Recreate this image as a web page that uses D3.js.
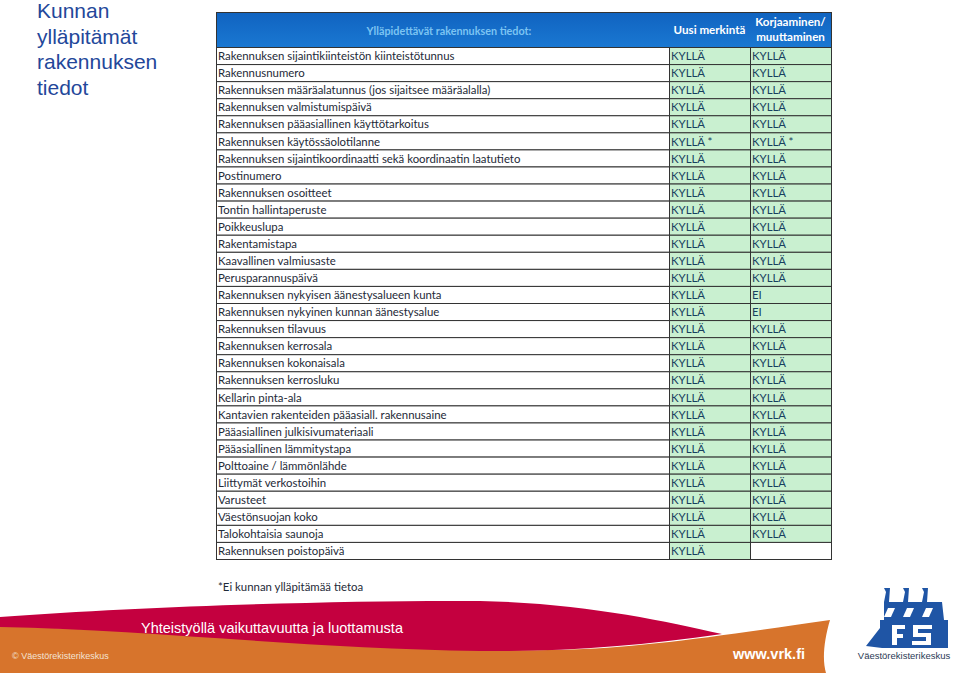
<!DOCTYPE html>
<html lang="fi">
<head>
<meta charset="UTF-8">
<title>Kunnan ylläpitämät rakennuksen tiedot</title>
<script src="https://d3js.org/d3.v7.min.js"></script>
<style>
  body { margin: 0; background: #fff; }
  svg { display: block; }
</style>
</head>
<body>
<script>
// Table rows
const labels = [
  "Rakennuksen sijaintikiinteistön kiinteistötunnus",
  "Rakennusnumero",
  "Rakennuksen määräalatunnus (jos sijaitsee määräalalla)",
  "Rakennuksen valmistumispäivä",
  "Rakennuksen pääasiallinen käyttötarkoitus",
  "Rakennuksen käytössäolotilanne",
  "Rakennuksen sijaintikoordinaatti sekä koordinaatin laatutieto",
  "Postinumero",
  "Rakennuksen osoitteet",
  "Tontin hallintaperuste",
  "Poikkeuslupa",
  "Rakentamistapa",
  "Kaavallinen valmiusaste",
  "Perusparannuspäivä",
  "Rakennuksen nykyisen äänestysalueen kunta",
  "Rakennuksen nykyinen kunnan äänestysalue",
  "Rakennuksen tilavuus",
  "Rakennuksen kerrosala",
  "Rakennuksen kokonaisala",
  "Rakennuksen kerrosluku",
  "Kellarin pinta-ala",
  "Kantavien rakenteiden pääasiall. rakennusaine",
  "Pääasiallinen julkisivumateriaali",
  "Pääasiallinen lämmitystapa",
  "Polttoaine / lämmönlähde",
  "Liittymät verkostoihin",
  "Varusteet",
  "Väestönsuojan koko",
  "Talokohtaisia saunoja",
  "Rakennuksen poistopäivä"
];
const newMark = labels.map((d, i) => i === 5 ? "KYLLÄ *" : "KYLLÄ");
const modify = [
  "KYLLÄ", "KYLLÄ", "KYLLÄ", "KYLLÄ", "KYLLÄ", "KYLLÄ *", "KYLLÄ", "KYLLÄ",
  "KYLLÄ", "KYLLÄ", "KYLLÄ", "KYLLÄ", "KYLLÄ", "KYLLÄ", "EI", "EI",
  "KYLLÄ", "KYLLÄ", "KYLLÄ", "KYLLÄ", "KYLLÄ", "KYLLÄ", "KYLLÄ", "KYLLÄ",
  "KYLLÄ", "KYLLÄ", "KYLLÄ", "KYLLÄ", "KYLLÄ", ""
];
const headers = ["Ylläpidettävät rakennuksen tiedot:", "Uusi merkintä", "Korjaaminen/\nmuuttaminen"];
const titleLines = ["Kunnan", "ylläpitämät", "rakennuksen", "tiedot"];

const w = 960, h = 673;
const green = "#c9f0d0";
const line = "#333";
const tableFont = "Lato, 'Liberation Sans', sans-serif";

const svg = d3.select("body").append("svg")
  .attr("width", w).attr("height", h)
  .attr("viewBox", [0, 0, w, h]);

// Slide title
svg.append("g").selectAll("text")
  .data(titleLines)
  .join("text")
  .attr("x", 37)
  .attr("y", (d, i) => 18 + i * 25.7)
  .attr("fill", "#23479a")
  .style("font", "21px 'Liberation Sans', Arial, sans-serif")
  .text(d => d);

// Scales
const colEdges = [216, 669, 750, 831];
const y = d3.scaleBand()
  .domain(d3.range(labels.length))
  .range([47.5, 559.5]);
const hdrTop = 12.5, hdrBottom = 47.5;

// Header
const defs = svg.append("defs");
const grad = defs.append("linearGradient").attr("id", "hdr").attr("x1", 0).attr("x2", 0).attr("y1", 0).attr("y2", 1);
grad.append("stop").attr("offset", 0).attr("stop-color", "#1063c0");
grad.append("stop").attr("offset", 1).attr("stop-color", "#1a78d2");

svg.append("rect")
  .attr("x", colEdges[0] + 0.5).attr("y", hdrTop)
  .attr("width", colEdges[3] - colEdges[0]).attr("height", hdrBottom - hdrTop)
  .attr("fill", "url(#hdr)").attr("stroke", line);

svg.append("text")
  .attr("x", 449).attr("y", 35)
  .attr("text-anchor", "middle")
  .attr("fill", "#7cc4f2")
  .style("font", `bold 10.8px ${tableFont}`)
  .text(headers[0]);

svg.append("text")
  .attr("x", (colEdges[1] + colEdges[2]) / 2).attr("y", 34)
  .attr("text-anchor", "middle")
  .attr("fill", "#fff")
  .style("font", `bold 11.6px ${tableFont}`)
  .text(headers[1]);

svg.append("text")
  .attr("x", (colEdges[2] + colEdges[3]) / 2).attr("y", 26)
  .attr("text-anchor", "middle")
  .attr("fill", "#fff")
  .style("font", `bold 11.6px ${tableFont}`)
  .selectAll("tspan")
  .data(headers[2].split("\n"))
  .join("tspan")
  .attr("x", (colEdges[2] + colEdges[3]) / 2)
  .attr("dy", (d, i) => i ? 15 : 0)
  .text(d => d);

// Body rows
const rows = svg.append("g").selectAll("g")
  .data(labels.map((d, i) => ({ label: d, a: newMark[i], b: modify[i] })))
  .join("g")
  .attr("transform", (d, i) => `translate(0,${y(i)})`);

rows.append("rect")
  .attr("x", colEdges[0] + 0.5).attr("width", colEdges[1] - colEdges[0])
  .attr("height", y.bandwidth()).attr("fill", "#fff").attr("stroke", line);
rows.append("rect")
  .attr("x", colEdges[1] + 0.5).attr("width", colEdges[2] - colEdges[1])
  .attr("height", y.bandwidth()).attr("fill", d => d.a ? green : "#fff").attr("stroke", line);
rows.append("rect")
  .attr("x", colEdges[2] + 0.5).attr("width", colEdges[3] - colEdges[2])
  .attr("height", y.bandwidth()).attr("fill", d => d.b ? green : "#fff").attr("stroke", line);

rows.append("text")
  .attr("x", colEdges[0] + 2).attr("y", y.bandwidth() / 2 + 4.2)
  .attr("fill", "#1e2a38")
  .style("font", `11.4px ${tableFont}`)
  .text(d => d.label);
rows.append("text")
  .attr("x", colEdges[1] + 2).attr("y", y.bandwidth() / 2 + 4.2)
  .attr("fill", "#17405f")
  .style("font", `11.4px ${tableFont}`)
  .text(d => d.a);
rows.append("text")
  .attr("x", colEdges[2] + 2).attr("y", y.bandwidth() / 2 + 4.2)
  .attr("fill", "#17405f")
  .style("font", `11.4px ${tableFont}`)
  .text(d => d.b);

// Footnote
svg.append("text")
  .attr("x", 218).attr("y", 591)
  .attr("fill", "#1e2a38")
  .style("font", `11.4px ${tableFont}`)
  .text("*Ei kunnan ylläpitämää tietoa");

// Footer band
svg.append("path")
  .attr("fill", "#d7742c")
  .attr("d", "M0,626 C200,632 400,652 560,650 C640,648 720,636 830,620 C824,640 822,660 826,673 L0,673 Z");
svg.append("path")
  .attr("fill", "#c4003f")
  .attr("d", "M0,617 C150,606 350,600 480,601 C580,603 660,620 722,634 C640,646 560,652 480,651 C300,648 150,630 0,627 Z");

svg.append("text")
  .attr("x", 141).attr("y", 633)
  .attr("fill", "#fff")
  .style("font", "14.5px 'Liberation Sans', Arial, sans-serif")
  .text("Yhteistyöllä vaikuttavuutta ja luottamusta");
svg.append("text")
  .attr("x", 12).attr("y", 659)
  .attr("fill", "#f3e3d3")
  .style("font", "9px 'Liberation Sans', Arial, sans-serif")
  .text("© Väestörekisterikeskus");
svg.append("text")
  .attr("x", 733).attr("y", 659)
  .attr("fill", "#fff")
  .style("font", "bold 14.5px 'Liberation Sans', Arial, sans-serif")
  .text("www.vrk.fi");

// Logo
svg.append("path")
  .attr("fill", "#1f55a5")
  .attr("d", "M884,602 L886,592 L884,588 L890,588 L889,602 L903,602 L905,592 L903,588 L909,588 L908,602 L922,602 L924,592 L922,588 L928,588 L927,602 L942,602 L944,620 L948,620 L948,648 L882,648 L866,646 L880,628 L880,620 L884,620 Z");
const cut = svg.append("g").attr("fill", "#fff");
cut.append("path").attr("d", "M888,608 L895,608 L891,617 L884,617 Z");
cut.append("path").attr("d", "M907,608 L914,608 L910,617 L903,617 Z");
cut.append("path").attr("d", "M926,608 L933,608 L929,617 L922,617 Z");
cut.append("path").attr("d", "M892,625 L905,625 L905,629 L897,629 L897,634 L903,634 L903,638 L897,638 L897,645 L892,645 Z");
cut.append("path").attr("d", "M913,625 L932,625 L932,629 L918,629 L918,633 L931,633 L931,645 L912,645 L912,641 L926,641 L926,637 L913,637 Z");
svg.append("text")
  .attr("x", 904).attr("y", 659)
  .attr("text-anchor", "middle")
  .attr("fill", "#2b3a55")
  .style("font", "9.5px 'Liberation Sans', Arial, sans-serif")
  .text("Väestörekisterikeskus");
</script>
</body>
</html>
